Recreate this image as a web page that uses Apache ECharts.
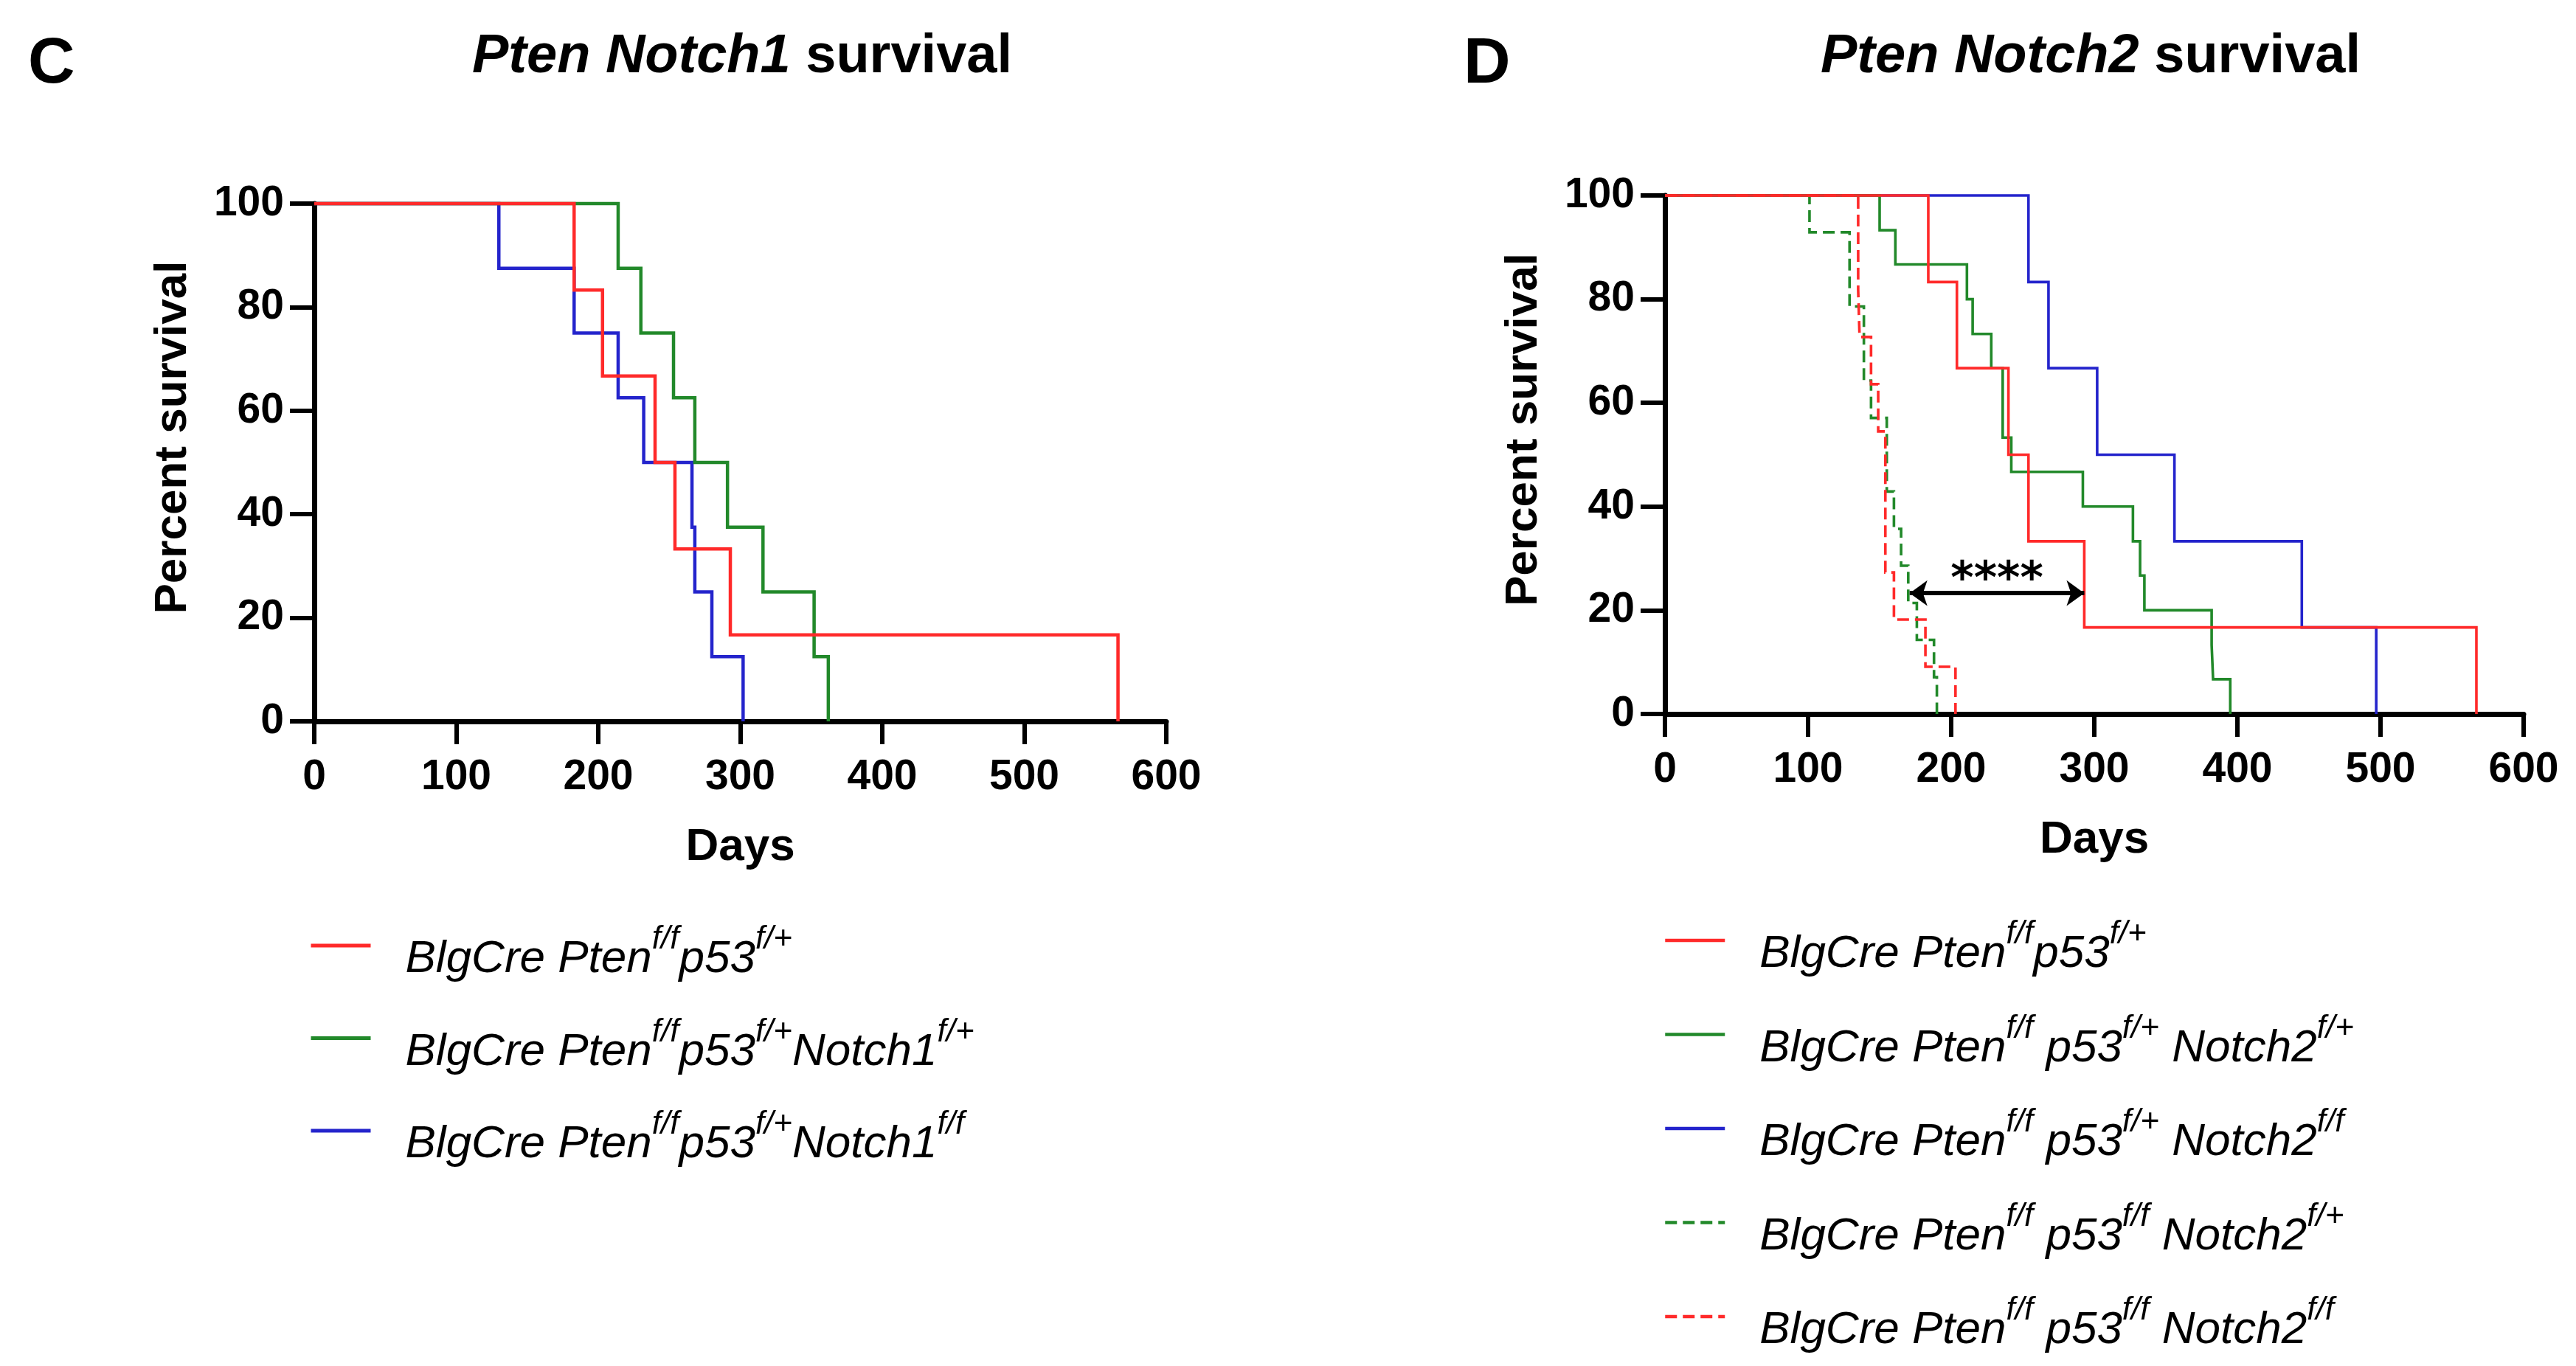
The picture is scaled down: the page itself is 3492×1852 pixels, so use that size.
<!DOCTYPE html>
<html><head><meta charset="utf-8">
<script src="https://cdn.jsdelivr.net/npm/echarts@6/dist/echarts.min.js"></script>
<style>html,body{margin:0;padding:0;background:#fff}#c{width:3492px;height:1852px}</style>
</head><body><div id="c"></div>
<script>
// ---------------- data ----------------
const dayTicks = [0, 100, 200, 300, 400, 500, 600];
const pctTicks = [0, 20, 40, 60, 80, 100];

// Panel C (Pten Notch1)
const cRedDays   = [0, 183, 203, 240, 254, 293, 566];
const cRedPct    = [100, 83.3, 66.7, 50, 33.3, 16.7, 0];
const cGreenDays = [0, 214, 230, 253, 268, 291, 316, 352, 362];
const cGreenPct  = [100, 87.5, 75, 62.5, 50, 37.5, 25, 12.5, 0];
const cBlueDays  = [0, 130, 183, 214, 232, 266, 268, 280, 302];
const cBluePct   = [100, 87.5, 75, 62.5, 50, 37.5, 25, 12.5, 0];

// Panel D (Pten Notch2)
const dRedDays   = [0, 184, 204, 240, 254, 293, 567];
const dRedPct    = [100, 83.3, 66.7, 50, 33.3, 16.7, 0];
const dGreenDays = [0, 150, 161, 211, 215, 228, 236, 242, 292, 327, 332, 335, 382, 383, 395];
const dGreenPct  = [100, 93.3, 86.7, 80, 73.3, 66.7, 53.3, 46.7, 40, 33.3, 26.7, 20, 13.3, 6.7, 0];
const dBlueDays  = [0, 254, 268, 302, 356, 445, 497];
const dBluePct   = [100, 83.3, 66.7, 50, 33.3, 16.7, 0];
const dGreenDashDays = [0, 101, 129, 139, 144, 155, 160, 165, 170, 176, 188, 190];
const dGreenDashPct  = [100, 92.9, 78.6, 64.3, 57.1, 42.9, 35.7, 28.6, 21.4, 14.3, 7.1, 0];
const dRedDashDays   = [0, 135, 136, 144, 149, 154, 160, 182, 203];
const dRedDashPct    = [100, 81.8, 72.7, 63.6, 54.5, 27.3, 18.2, 9.1, 0];

// significance bar in panel D
const sigFrom = [171, 23.3];
const sigTo = [293, 23.3];
const sigLabel = '****';

// legend labels (rich text)
const legendC = [
  ['C1', '{m|BlgCre Pten}{s|f/f}{m|p53}{s|f/+}'],
  ['C2', '{m|BlgCre Pten}{s|f/f}{m|p53}{s|f/+}{m|Notch1}{s|f/+}'],
  ['C3', '{m|BlgCre Pten}{s|f/f}{m|p53}{s|f/+}{m|Notch1}{s|f/f}']
];
const legendD = [
  ['D1', '{m|BlgCre Pten}{s|f/f}{m|p53}{s|f/+}'],
  ['D2', '{m|BlgCre Pten}{s|f/f}{m| p53}{s|f/+}{m| Notch2}{s|f/+}'],
  ['D3', '{m|BlgCre Pten}{s|f/f}{m| p53}{s|f/+}{m| Notch2}{s|f/f}'],
  ['D4', '{m|BlgCre Pten}{s|f/f}{m| p53}{s|f/f}{m| Notch2}{s|f/+}'],
  ['D5', '{m|BlgCre Pten}{s|f/f}{m| p53}{s|f/f}{m| Notch2}{s|f/f}']
];

// ---------------- chart ----------------
const RED = '#ff2a2a', GREEN = '#22892a', BLUE = '#2424cc';
const FONT = 'Liberation Sans';
const zip = (xs, ys) => xs.map((x, i) => [x, ys[i]]);

function xAx(idx) {
  return {
    gridIndex: idx, type: 'value', min: 0, max: 600, interval: 100,
    name: 'Days', nameLocation: 'middle', nameGap: 140,
    nameTextStyle: {fontFamily: FONT, fontWeight: 'bold', fontSize: 62, color: '#000'},
    axisLine: {show: true, onZero: false, lineStyle: {color: '#000', width: 7}},
    axisTick: {show: true, length: 31, lineStyle: {color: '#000', width: 6}},
    axisLabel: {fontFamily: FONT, fontWeight: 'bold', fontSize: 57, color: '#000', margin: 48,
      formatter: v => dayTicks.includes(v) ? String(v) : ''},
    splitLine: {show: false}
  };
}
function yAx(idx) {
  return {
    gridIndex: idx, type: 'value', min: 0, max: 100, interval: 20,
    name: 'Percent survival', nameLocation: 'middle', nameGap: 160,
    nameTextStyle: {fontFamily: FONT, fontWeight: 'bold', fontSize: 62, color: '#000', padding: [0, 0, 0, 68]},
    axisLine: {show: true, onZero: false, lineStyle: {color: '#000', width: 7}},
    axisTick: {show: true, length: 33, lineStyle: {color: '#000', width: 6}},
    axisLabel: {fontFamily: FONT, fontWeight: 'bold', fontSize: 57, color: '#000', margin: 41,
      formatter: v => pctTicks.includes(v) ? String(v) : ''},
    splitLine: {show: false}
  };
}
function km(name, idx, days, pct, color, width, dashed) {
  return {
    name, type: 'line', xAxisIndex: idx, yAxisIndex: idx, step: 'end',
    data: zip(days, pct), symbol: 'none', showSymbol: false, clip: false,
    lineStyle: {color, width, type: dashed ? [16, 8] : 'solid', join: 'miter', cap: 'butt'},
    itemStyle: {color}, emphasis: {disabled: true}, silent: true
  };
}

const legRich = {
  m: {fontFamily: FONT, fontStyle: 'italic', fontSize: 62, lineHeight: 80, verticalAlign: 'bottom', color: '#000'},
  s: {fontFamily: FONT, fontStyle: 'italic', fontSize: 44, lineHeight: 44, verticalAlign: 'top', color: '#000'}
};
const titleRich = {
  i: {fontFamily: FONT, fontStyle: 'italic', fontWeight: 'bold', fontSize: 74, color: '#000'},
  b: {fontFamily: FONT, fontWeight: 'bold', fontSize: 74, color: '#000'}
};
function legend(list, left, top, gap, lw) {
  const map = Object.fromEntries(list);
  return {
    data: list.map(d => d[0]), orient: 'vertical', left, top, padding: 0,
    itemWidth: 81, itemHeight: 2, itemGap: gap, selectedMode: false,
    itemStyle: {opacity: 0},
    lineStyle: {width: lw},
    formatter: n => map[n],
    textStyle: {rich: legRich, padding: [20, 0, 0, 42], color: '#000'}
  };
}

const dRed = km('D1', 1, dRedDays, dRedPct, RED, 3.6, false);
dRed.markLine = {
  silent: true, symbol: ['arrow', 'arrow'], symbolSize: [26, 24],
  lineStyle: {color: '#000', width: 6, type: 'solid'},
  label: {show: true, formatter: sigLabel, position: 'insideMiddleTop', distance: -14,
    fontFamily: 'DejaVu Sans', fontWeight: 'bold', fontSize: 60, color: '#000'},
  emphasis: {disabled: true},
  data: [[{coord: sigFrom}, {coord: sigTo}]]
};

const option = {
  backgroundColor: '#fff',
  animation: false,
  grid: [
    {left: 426, top: 276, width: 1155, height: 702},
    {left: 2257, top: 265, width: 1164, height: 703}
  ],
  xAxis: [xAx(0), xAx(1)],
  yAxis: [yAx(0), yAx(1)],
  legend: [legend(legendC, 419, 1252, 45.5, 5), legend(legendD, 2255, 1245, 47.5, 4.5)],
  graphic: [
    {type: 'text', x: 38, y: 88, silent: true, style: {text: 'C', font: 'bold 88px "Liberation Sans"', fill: '#000', verticalAlign: 'middle'}},
    {type: 'text', x: 1984, y: 88, silent: true, style: {text: 'D', font: 'bold 88px "Liberation Sans"', fill: '#000', verticalAlign: 'middle'}},
    {type: 'text', x: 1006, y: 78, silent: true, style: {text: '{i|Pten Notch1} {b|survival}', rich: titleRich, font: 'bold 74px "Liberation Sans"', fill: '#000', align: 'center', verticalAlign: 'middle'}},
    {type: 'text', x: 2834, y: 78, silent: true, style: {text: '{i|Pten Notch2} {b|survival}', rich: titleRich, font: 'bold 74px "Liberation Sans"', fill: '#000', align: 'center', verticalAlign: 'middle'}}
  ],
  series: [
    km('C3', 0, cBlueDays, cBluePct, BLUE, 4.5, false),
    km('C2', 0, cGreenDays, cGreenPct, GREEN, 4.5, false),
    km('C1', 0, cRedDays, cRedPct, RED, 4.5, false),
    km('D3', 1, dBlueDays, dBluePct, BLUE, 3.6, false),
    km('D2', 1, dGreenDays, dGreenPct, GREEN, 3.6, false),
    km('D4', 1, dGreenDashDays, dGreenDashPct, GREEN, 3.6, true),
    km('D5', 1, dRedDashDays, dRedDashPct, RED, 3.6, true),
    dRed
  ]
};
const chart = echarts.init(document.getElementById('c'), null, {renderer: 'canvas'});
chart.setOption(option);
</script></body></html>
